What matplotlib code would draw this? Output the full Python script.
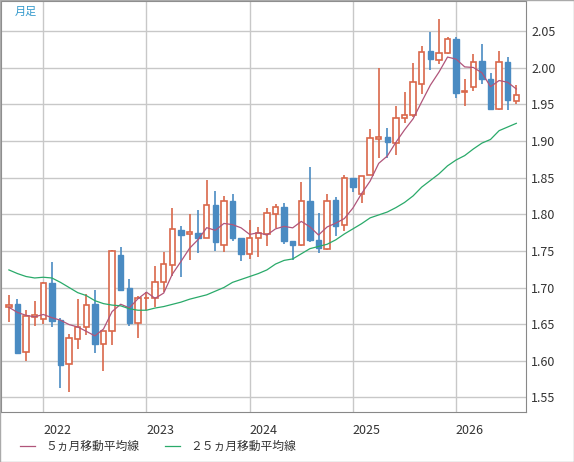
import matplotlib
matplotlib.use("Agg")
import matplotlib.pyplot as plt
from matplotlib.lines import Line2D
import numpy as np
import pandas as pd

plt.rcParams['font.family'] = ['Noto Sans CJK JP', 'DejaVu Sans']

opens  = [1.674,1.677,1.612,1.660,1.657,1.706,1.655,1.595,1.630,1.646,1.677,1.623,1.641,1.745,1.699,1.652,1.685,1.685,1.708,1.731,
          1.778,1.773,1.775,1.768,1.813,1.758,1.818,1.768,1.746,1.768,1.773,1.800,1.810,1.764,1.758,1.818,1.765,1.752,1.820,1.785,
          1.849,1.828,1.853,1.902,1.906,1.897,1.931,1.935,1.977,2.023,2.010,2.020,2.039,1.967,1.973,2.009,1.984,1.944,2.008,1.955]
closes = [1.676,1.611,1.661,1.662,1.706,1.654,1.594,1.631,1.646,1.676,1.623,1.641,1.750,1.696,1.651,1.685,1.686,1.708,1.732,1.780,
          1.771,1.776,1.768,1.813,1.762,1.818,1.768,1.746,1.768,1.774,1.802,1.810,1.763,1.758,1.818,1.765,1.754,1.818,1.784,1.849,
          1.837,1.852,1.904,1.905,1.899,1.931,1.936,1.980,2.021,2.012,2.020,2.039,1.966,1.968,2.008,1.984,1.944,2.008,1.956,1.962]
highs  = [1.690,1.684,1.669,1.682,1.707,1.735,1.659,1.636,1.684,1.691,1.696,1.641,1.751,1.755,1.711,1.688,1.694,1.729,1.749,1.809,
          1.784,1.800,1.806,1.846,1.831,1.825,1.828,1.768,1.792,1.782,1.808,1.814,1.815,1.764,1.844,1.864,1.802,1.827,1.824,1.853,
          1.849,1.852,1.916,1.999,1.917,1.948,1.967,2.006,2.029,2.048,2.067,2.042,2.042,1.984,2.019,2.032,1.993,2.023,2.014,1.976]
lows   = [1.653,1.610,1.600,1.648,1.650,1.646,1.563,1.557,1.616,1.635,1.611,1.586,1.621,1.696,1.647,1.631,1.669,1.674,1.694,1.716,
          1.714,1.737,1.747,1.768,1.750,1.749,1.763,1.736,1.739,1.741,1.756,1.781,1.760,1.737,1.757,1.762,1.747,1.751,1.770,1.777,
          1.830,1.815,1.853,1.877,1.877,1.881,1.925,1.932,1.964,1.997,2.005,2.018,1.958,1.947,1.968,1.977,1.942,1.942,1.942,1.951]
ma5_head = [1.673,1.666,1.662,1.660]
ma25 = [1.724,1.719,1.715,1.713,1.714,1.713,1.707,1.700,1.693,1.689,1.682,1.678,1.676,1.675,1.671,1.669,1.669,1.672,1.674,1.677,
        1.680,1.684,1.687,1.690,1.695,1.700,1.707,1.711,1.715,1.719,1.724,1.732,1.737,1.739,1.746,1.753,1.756,1.759,1.765,1.773,
        1.780,1.787,1.795,1.799,1.803,1.809,1.816,1.825,1.837,1.846,1.855,1.866,1.874,1.880,1.889,1.897,1.902,1.914,1.919,1.924]
year_labels = ['2022','2023','2024','2025','2026']
year_idx = [4,16,28,40,52]
legend_labels = ['５ヵ月移動平均線','２５ヵ月移動平均線']

ma5 = pd.Series(closes).rolling(5).mean().to_numpy()
ma5[:4] = ma5_head

UP = '#d9674a'; DN = '#4a8bc2'; C5 = '#b0557a'; C25 = '#2aaa6a'

fig = plt.figure(figsize=(5.74,4.62), dpi=100)
ax = fig.add_axes([0.002, 0.108, 0.914, 0.890])
n = len(opens)
x = np.arange(n)
for i in range(n):
    o, c, h, l = opens[i], closes[i], highs[i], lows[i]
    col = UP if c >= o else DN
    ax.vlines(i, l, h, color=col, lw=1.2, zorder=3)
    bot = min(o, c); ht = max(abs(c-o), 0.0012)
    if c >= o:
        ax.bar(i, ht, 0.62, bot, facecolor='white', edgecolor=col, lw=1.2, zorder=4)
    else:
        ax.bar(i, ht, 0.62, bot, facecolor=col, edgecolor=col, lw=1.0, zorder=4)
ax.plot(x, ma5, color=C5, lw=0.9, zorder=5)
ax.plot(x, ma25, color=C25, lw=0.9, zorder=5)

ax.set_xlim(-0.9, 60.1)
ax.set_ylim(1.530, 2.091)
ax.set_yticks(np.arange(1.55, 2.051, 0.05))
ax.yaxis.tick_right()
ax.set_yticklabels([f'{v:.2f}' for v in np.arange(1.55, 2.051, 0.05)], fontsize=9, color='#333333')
ax.set_xticks(year_idx)
ax.set_xticklabels([])
ax.tick_params(length=0, pad=4)
for xi, lab in zip(year_idx, year_labels):
    ax.text(xi + 1.6, -0.028, lab, transform=ax.get_xaxis_transform(), ha='center', va='top', fontsize=9, color='#333333')
ax.grid(True, color='#c8c8c8', lw=1)
ax.set_axisbelow(True)
for s in ax.spines.values():
    s.set_color('#888888')
ax.text(0.025, 0.985, '月足', transform=ax.transAxes, ha='left', va='top', fontsize=8, color='#3399cc')

fig.patches.append(plt.Rectangle((0,0),1,1, transform=fig.transFigure, fill=False, ec='#aaaaaa', lw=1))
for x0, lab, col in [(20, legend_labels[0], C5), (165, legend_labels[1], C25)]:
    fig.add_artist(Line2D([x0/574, (x0+15)/574], [1-446/462]*2, color=col, lw=0.9))
    fig.text((x0+25)/574, 1-446/462, lab, fontsize=8.5, va='center', ha='left', color='#333333')

fig.savefig('out.png', dpi=100)
